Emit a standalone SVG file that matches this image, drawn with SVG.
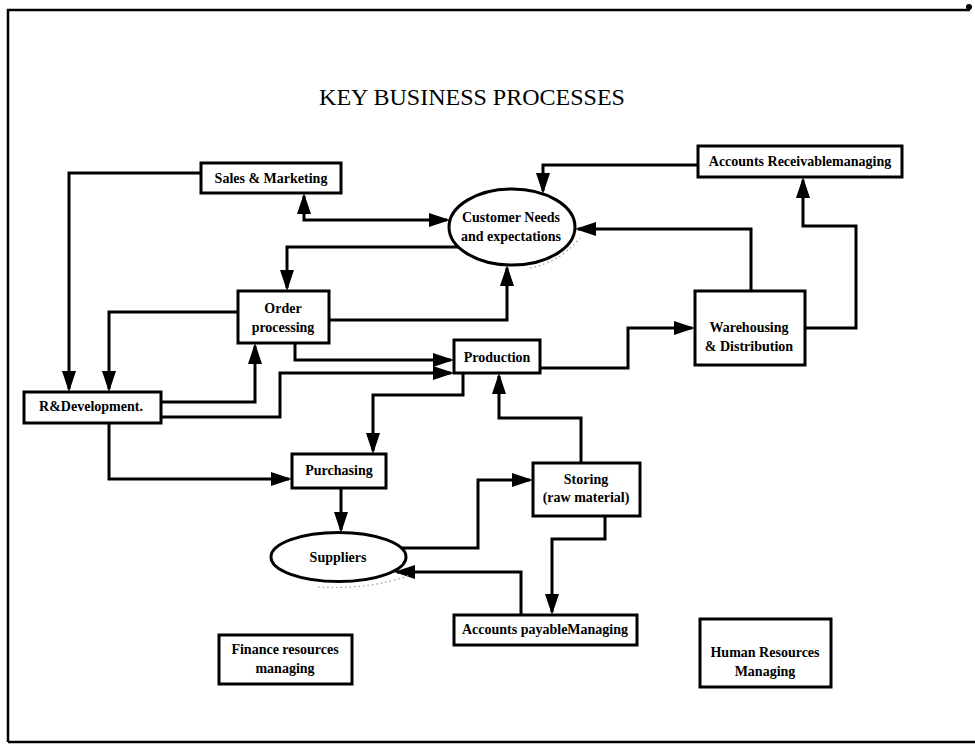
<svg xmlns="http://www.w3.org/2000/svg" width="975" height="745" viewBox="0 0 975 745">
  <defs>
    <style>
      .box { fill: #fff; stroke: #000; stroke-width: 3; }
      .lbl { font-family: "Liberation Serif", "Times New Roman", serif; font-size: 14px; font-weight: bold; text-anchor: middle; fill: #000; }
      .title { font-family: "Liberation Serif", "Times New Roman", serif; font-size: 24px; text-anchor: middle; fill: #000; }
      .wire { fill: none; stroke: #000; stroke-width: 3; marker-end: url(#arrow); }
      .frame { fill: none; stroke: #000; stroke-width: 2.5; }
      .smudge { fill: none; stroke: #999; stroke-width: 1.2; stroke-dasharray: 1.5 3; }
    </style>
    <marker id="arrow" markerUnits="userSpaceOnUse" markerWidth="22" markerHeight="14" refX="18" refY="7" orient="auto-start-reverse">
      <path d="M0,0 L21,7 L0,14 z" fill="#000"/>
    </marker>
  </defs>

  <rect width="975" height="745" fill="#fff"/>

  <!-- page frame -->
  <g id="frame">
    <path class="frame" d="M8,742 V10 H970"/>
    <path class="frame" d="M8,742 H975"/>
    <circle cx="969" cy="7" r="3" fill="#000"/>
  </g>

  <text class="title" x="472" y="105">KEY BUSINESS PROCESSES</text>

  <!-- connectors -->
  <g id="connectors">
    <path class="wire" d="M201,173 H69 V389"/>
    <path class="wire" style="marker-start:url(#arrow)" d="M304,196 V220 H447"/>
    <path class="wire" d="M458,247 H287 V288"/>
    <path class="wire" d="M329,320 H507 V268"/>
    <path class="wire" d="M238,312 H109 V389"/>
    <path class="wire" d="M161,402 H255 V346"/>
    <path class="wire" d="M161,417 H280 V373 H451"/>
    <path class="wire" d="M295,343 V360 H451"/>
    <path class="wire" d="M540,368 H628 V328 H692"/>
    <path class="wire" d="M463,373 V395 H373 V451"/>
    <path class="wire" d="M751,291 V229 H578"/>
    <path class="wire" d="M805,328 H856 V226 H803 V180"/>
    <path class="wire" d="M698,165 H543 V191"/>
    <path class="wire" d="M581,463 V418 H499 V376"/>
    <path class="wire" d="M401,548 H478 V480 H530"/>
    <path class="wire" d="M605,516 V539 H552 V612"/>
    <path class="wire" d="M521,615 V572 H397"/>
    <path class="wire" d="M341,488 V530"/>
    <path class="wire" d="M109,423 V479 H289"/>
  </g>

  <!-- nodes -->
  <g id="sales-marketing">
    <rect class="box" x="201" y="163" width="140" height="30"/>
    <text class="lbl" x="271" y="183">Sales &amp; Marketing</text>
  </g>

  <g id="customer-needs">
    <path class="smudge" d="M530,268 Q560,262 580,238"/>
    <ellipse class="box" cx="512" cy="227" rx="63" ry="38"/>
    <text class="lbl" x="511" y="222">Customer Needs</text>
    <text class="lbl" x="511" y="241">and expectations</text>
  </g>

  <g id="accounts-receivable">
    <rect class="box" x="698" y="146" width="204" height="31"/>
    <text class="lbl" x="800" y="166">Accounts Receivablemanaging</text>
  </g>

  <g id="order-processing">
    <rect class="box" x="238" y="291" width="91" height="52"/>
    <text class="lbl" x="283" y="313">Order</text>
    <text class="lbl" x="283" y="332">processing</text>
  </g>

  <g id="production">
    <rect class="box" x="454" y="340" width="86" height="33"/>
    <text class="lbl" x="497" y="362">Production</text>
  </g>

  <g id="warehousing">
    <rect class="box" x="695" y="291" width="110" height="74"/>
    <text class="lbl" x="749" y="332">Warehousing</text>
    <text class="lbl" x="749" y="351">&amp; Distribution</text>
  </g>

  <g id="rd">
    <rect class="box" x="24" y="392" width="137" height="31"/>
    <text class="lbl" x="91" y="411">R&amp;Development.</text>
  </g>

  <g id="purchasing">
    <rect class="box" x="292" y="454" width="94" height="34"/>
    <text class="lbl" x="339" y="475">Purchasing</text>
  </g>

  <g id="storing">
    <rect class="box" x="533" y="463" width="107" height="53"/>
    <text class="lbl" x="586" y="484">Storing</text>
    <text class="lbl" x="586" y="502">(raw material)</text>
  </g>

  <g id="suppliers">
    <path class="smudge" d="M318,587 Q370,590 410,575"/>
    <ellipse class="box" cx="338.5" cy="557" rx="67.5" ry="24.5"/>
    <text class="lbl" x="338" y="562">Suppliers</text>
  </g>

  <g id="accounts-payable">
    <rect class="box" x="454" y="615" width="183" height="30"/>
    <text class="lbl" x="545" y="634">Accounts payableManaging</text>
  </g>

  <g id="finance">
    <rect class="box" x="219" y="635" width="133" height="49"/>
    <text class="lbl" x="285" y="654">Finance resources</text>
    <text class="lbl" x="285" y="673">managing</text>
  </g>

  <g id="human-resources">
    <rect class="box" x="700" y="619" width="131" height="68"/>
    <text class="lbl" x="765" y="657">Human Resources</text>
    <text class="lbl" x="765" y="676">Managing</text>
  </g>
</svg>
